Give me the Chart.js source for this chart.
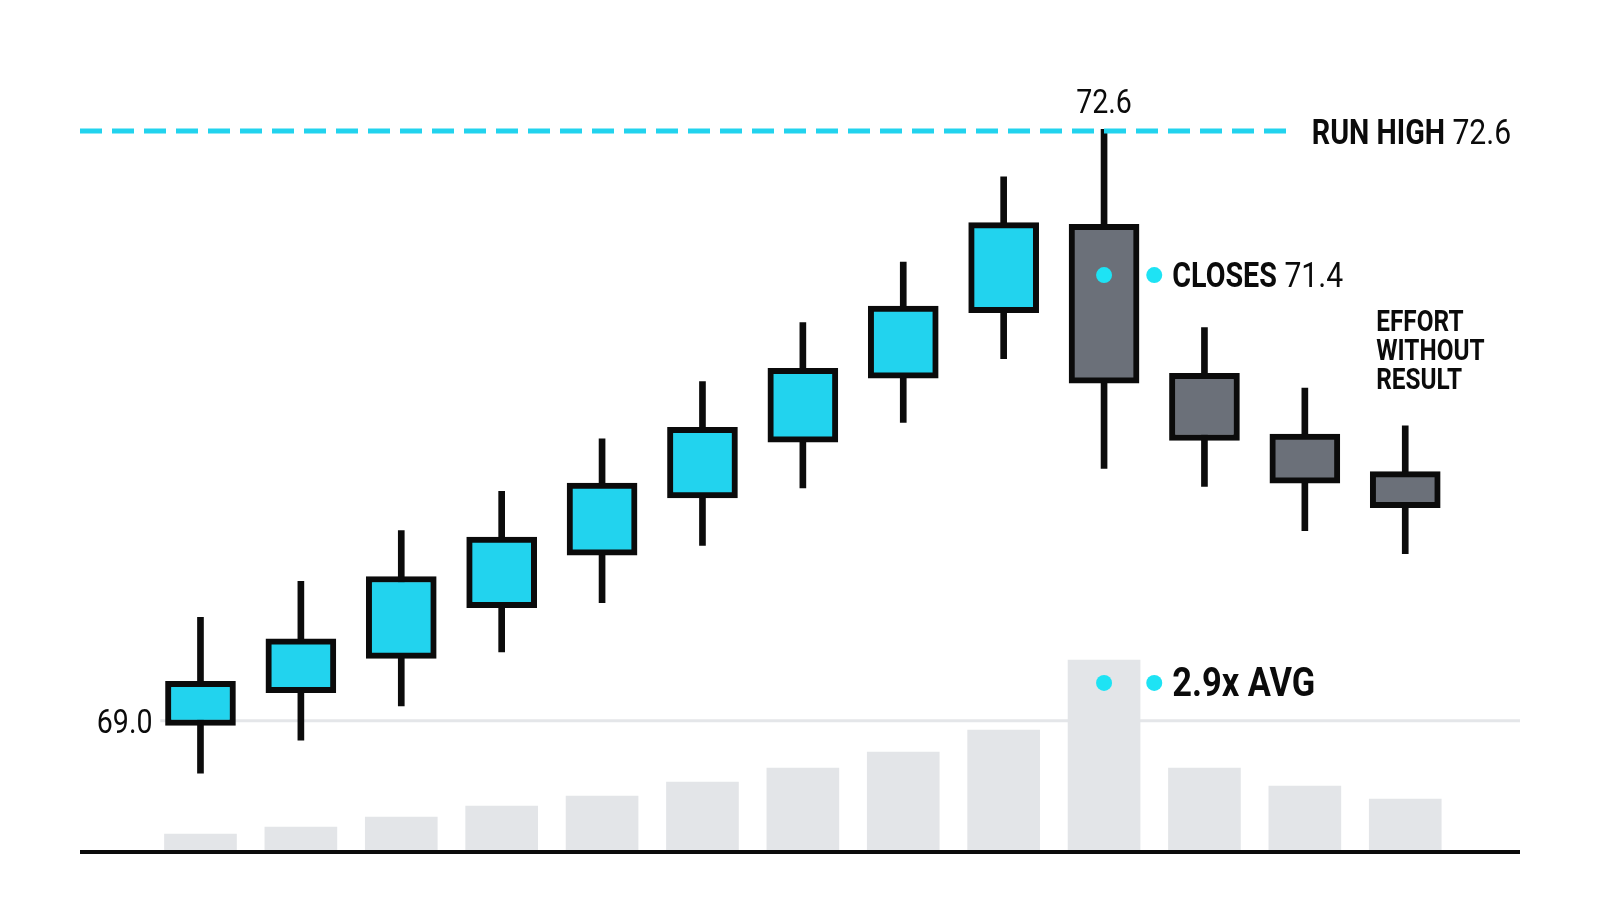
<!DOCTYPE html>
<html>
<head>
<meta charset="utf-8">
<script src="https://cdn.jsdelivr.net/npm/chart.js@4.4.1/dist/chart.umd.min.js"></script>
<style>
  html, body { margin: 0; padding: 0; background: #fff; }
  .wrap { position: relative; width: 1600px; height: 914px; }
</style>
</head>
<body>
<div class="wrap"><canvas id="chart"></canvas></div>
<script>
// sessions (x index), OHLC and volume
const sessions = [0, 1, 2, 3, 4, 5, 6, 7, 8, 9, 10, 11, 12];
const opens   = [68.97, 69.17, 69.38, 69.69, 70.01, 70.36, 70.70, 71.09, 71.49, 72.03, 71.12, 70.75, 70.52];
const highs   = [69.63, 69.85, 70.16, 70.40, 70.72, 71.07, 71.43, 71.80, 72.32, 72.61, 71.40, 71.03, 70.80];
const lows    = [68.68, 68.88, 69.09, 69.42, 69.72, 70.07, 70.42, 70.82, 71.21, 70.54, 70.43, 70.16, 70.02];
const closes  = [69.24, 69.50, 69.88, 70.12, 70.45, 70.79, 71.15, 71.53, 72.04, 71.06, 70.71, 70.45, 70.30];
const volumes = [1.8, 2.5, 3.5, 4.6, 5.6, 7.0, 8.4, 10.0, 12.2, 19.2, 8.4, 6.6, 5.3];

const runHigh = 72.6;
const baseLevel = 69.0;
const closeNote = 71.4;
const volNote = "2.9x AVG";
const effortNote = ["EFFORT", "WITHOUT", "RESULT"];
const spikeIdx = 9;

const CYAN = "#22D3EE";
const DOT = "#1EE3F4";
const GREY = "#6B7079";
const INK = "#0B0B0B";

// Roboto squeezed horizontally so it reads like the condensed face
function condText(ctx, txt, x, y, font, sx, align) {
  ctx.save();
  ctx.font = font;
  ctx.fillStyle = INK;
  ctx.textBaseline = "middle";
  const w = ctx.measureText(txt).width * sx;
  let left = x;
  if (align === "right") left = x - w;
  if (align === "center") left = x - w / 2;
  ctx.translate(left, y + 3);
  ctx.scale(sx, 1);
  ctx.textAlign = "left";
  ctx.fillText(txt, 0, 0);
  ctx.restore();
  return w;
}

const BOLD = s => `700 ${s}px Roboto`;
const REG = s => `400 ${s}px Roboto`;

const decor = {
  id: "decor",
  beforeDatasetsDraw(chart) {
    const { ctx, chartArea, scales: { x, y } } = chart;
    // single reference level at 69.0
    const yb = y.getPixelForValue(baseLevel);
    ctx.save();
    ctx.strokeStyle = "#E4E6E9";
    ctx.lineWidth = 3;
    ctx.beginPath();
    ctx.moveTo(x.getPixelForValue(-0.4), yb);
    ctx.lineTo(chartArea.right, yb);
    ctx.stroke();
    ctx.restore();
  },
  afterDatasetsDraw(chart) {
    const { ctx, chartArea, scales: { x, y } } = chart;
    // baseline axis
    ctx.save();
    ctx.strokeStyle = INK;
    ctx.lineWidth = 4;
    ctx.beginPath();
    ctx.moveTo(chartArea.left, chartArea.bottom);
    ctx.lineTo(chartArea.right, chartArea.bottom);
    ctx.stroke();
    ctx.restore();

    // 69.0 label
    condText(ctx, baseLevel.toFixed(1), x.getPixelForValue(0) - 48, y.getPixelForValue(baseLevel) + 1, REG(34), 0.84, "right");

    // run high value above the spike candle
    const yr = y.getPixelForValue(runHigh);
    condText(ctx, runHigh.toFixed(1), x.getPixelForValue(spikeIdx), yr - 29, REG(34), 0.84, "center");

    // RUN HIGH 72.6 at the end of the dashed line
    const dashEnd = chart.data.datasets[3].data[1].x;
    let tx = x.getPixelForValue(dashEnd) + 20;
    tx += condText(ctx, "RUN HIGH", tx, yr + 1, BOLD(35), 0.82, "left");
    condText(ctx, " " + runHigh.toFixed(1), tx, yr + 1, REG(35), 0.86, "left");

    // CLOSES 71.4
    const dots = chart.data.datasets[4].data;
    const cx = x.getPixelForValue(dots[1].x) + 18;
    const cy = y.getPixelForValue(dots[1].y);
    const w = condText(ctx, "CLOSES", cx, cy, BOLD(35), 0.82, "left");
    condText(ctx, " " + closeNote.toFixed(1), cx + w, cy, REG(35), 0.86, "left");

    // 2.9x AVG
    const vx = x.getPixelForValue(dots[3].x) + 18;
    const vy = y.getPixelForValue(dots[3].y);
    condText(ctx, volNote, vx, vy, BOLD(40), 0.86, "left");

    // EFFORT WITHOUT RESULT
    const ex = x.getPixelForValue(sessions[12]) - 29;
    const ey = y.getPixelForValue(highs[10]) - 7;
    effortNote.forEach((t, i) => {
      condText(ctx, t, ex, ey + i * 29, BOLD(29), 0.84, "left");
    });
  }
};

const ctx = document.getElementById("chart");
new Chart(ctx, {
  data: {
    datasets: [
      {
        type: "bar",
        label: "Volume",
        yAxisID: "yv",
        data: sessions.map(i => ({ x: i, y: volumes[i] })),
        backgroundColor: "#E3E5E8",
        barThickness: 72,
        grouped: false,
        order: 5
      },
      {
        type: "bar",
        label: "Wick",
        data: sessions.map(i => ({ x: i, y: [lows[i], highs[i]] })),
        backgroundColor: INK,
        barThickness: 6,
        grouped: false,
        order: 4
      },
      {
        type: "bar",
        label: "Body",
        data: sessions.map(i => ({ x: i, y: [opens[i], closes[i]] })),
        backgroundColor: sessions.map(i => closes[i] >= opens[i] ? CYAN : GREY),
        borderColor: INK,
        borderWidth: 6,
        borderSkipped: false,
        barThickness: 70,
        grouped: false,
        order: 3
      },
      {
        type: "line",
        label: "Run high",
        data: [{ x: -1.2, y: runHigh }, { x: 10.87, y: runHigh }],
        borderColor: CYAN,
        borderWidth: 5,
        borderDash: [22, 10],
        pointRadius: 0,
        order: 2
      },
      {
        type: "scatter",
        label: "Marks",
        data: [
          { x: spikeIdx, y: 71.72 }, { x: spikeIdx + 0.5, y: 71.72 },
          { x: spikeIdx, y: 69.23 }, { x: spikeIdx + 0.5, y: 69.23 }
        ],
        backgroundColor: DOT,
        borderWidth: 0,
        pointRadius: 8,
        order: 1
      }
    ]
  },
  options: {
    responsive: true,
    maintainAspectRatio: false,
    animation: false,
    events: [],
    layout: { padding: { left: 80, right: 80, top: 60, bottom: 62 } },
    plugins: { legend: { display: false }, tooltip: { enabled: false } },
    scales: {
      x: { type: "linear", min: -1.2, max: 13.143, offset: false, display: false, grid: { offset: false } },
      y: { type: "linear", min: 68.198, max: 73.033, display: false },
      yv: { type: "linear", min: 0, max: 79.2, display: false }
    }
  },
  plugins: [decor]
});
</script>
</body>
</html>
